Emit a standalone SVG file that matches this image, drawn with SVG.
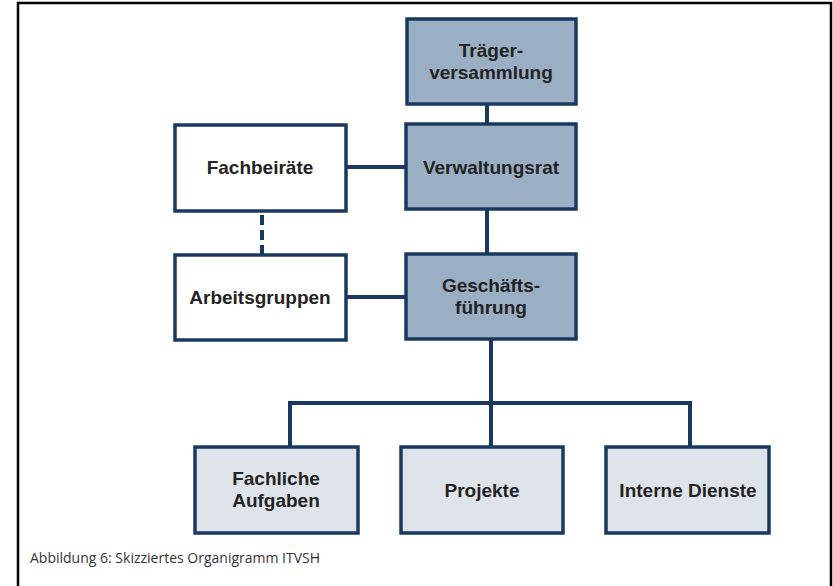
<svg xmlns="http://www.w3.org/2000/svg" width="833" height="586" viewBox="0 0 833 586">
<style>
.box{stroke:#1a3961;stroke-width:3.5;}
.dark{fill:#9aafc4;}
.white{fill:#ffffff;}
.light{fill:#dfe4ea;}
.lbl{font-family:"Liberation Sans",Arial,sans-serif;font-weight:bold;font-size:19px;fill:#232323;text-anchor:middle;}
.con{stroke:#1a3961;stroke-width:4;fill:none;}
.cap{font-family:"Open Sans","Liberation Sans",sans-serif;font-size:14px;fill:#333;}
</style>
<rect x="0" y="0" width="833" height="586" fill="#ffffff"/>
<path d="M18,590 V3 H831 V590" fill="none" stroke="#000" stroke-width="2.5"/>
<g id="connectors">
<line class="con" x1="487" y1="104" x2="487" y2="124"/>
<line class="con" x1="487" y1="209" x2="487" y2="254"/>
<line class="con" x1="346" y1="167" x2="406" y2="167"/>
<line class="con" x1="346" y1="297" x2="406" y2="297"/>
<line class="con" x1="262" y1="215" x2="262" y2="255" stroke-dasharray="10,5"/>
<polyline class="con" points="491,339 491,403"/>
<polyline class="con" points="290,447 290,403 690,403 690,447"/>
<line class="con" x1="491" y1="403" x2="491" y2="447"/>
</g>
<g id="traeger">
<rect class="box dark" x="407" y="19" width="169" height="85"/>
<text class="lbl" x="491" y="57">Träger-</text>
<text class="lbl" x="491" y="79">versammlung</text>
</g>
<g id="verwaltungsrat">
<rect class="box dark" x="406" y="124" width="170" height="85"/>
<text class="lbl" x="491" y="174">Verwaltungsrat</text>
</g>
<g id="fachbeiraete">
<rect class="box white" x="175" y="125" width="171" height="86"/>
<text class="lbl" x="260" y="174">Fachbeiräte</text>
</g>
<g id="arbeitsgruppen">
<rect class="box white" x="175" y="255" width="171" height="85"/>
<text class="lbl" x="260" y="304">Arbeitsgruppen</text>
</g>
<g id="geschaeftsfuehrung">
<rect class="box dark" x="406" y="254" width="170" height="85"/>
<text class="lbl" x="491" y="292">Geschäfts-</text>
<text class="lbl" x="491" y="314">führung</text>
</g>
<g id="fachliche">
<rect class="box light" x="195" y="447" width="163" height="86"/>
<text class="lbl" x="276" y="485">Fachliche</text>
<text class="lbl" x="276" y="507">Aufgaben</text>
</g>
<g id="projekte">
<rect class="box light" x="401" y="447" width="162" height="86"/>
<text class="lbl" x="482" y="497">Projekte</text>
</g>
<g id="interne">
<rect class="box light" x="606" y="447" width="163" height="86"/>
<text class="lbl" x="688" y="497">Interne Dienste</text>
</g>
<text class="cap" x="30" y="563">Abbildung 6: Skizziertes Organigramm ITVSH</text>
</svg>
